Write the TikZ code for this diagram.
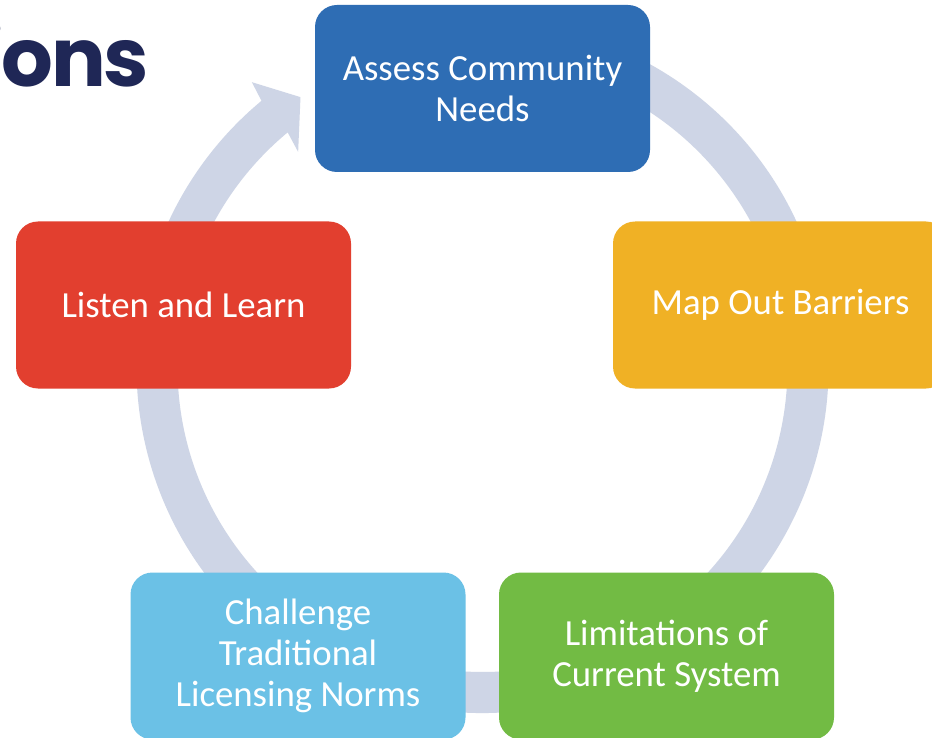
\documentclass[tikz,border=0pt]{standalone}
\usepackage{fontspec}
\usetikzlibrary{calc}
\newfontfamily\boxfont{Carlito}
\newfontfamily\titlefont{Poppins}[LetterSpace=-3]
\definecolor{assessblue}{RGB}{46,109,180}
\definecolor{mapgold}{RGB}{240,177,37}
\definecolor{limitgreen}{RGB}{114,187,68}
\definecolor{challengecyan}{RGB}{107,193,230}
\definecolor{listenred}{RGB}{226,63,47}
\definecolor{ringgrey}{RGB}{206,213,230}
\definecolor{titlenavy}{RGB}{31,39,86}

\begin{document}
\begin{tikzpicture}[x=0.75pt,y=0.75pt,yscale=-1,xscale=1,
	stage/.style={rectangle, rounded corners=16.5pt, minimum width=251.25pt, minimum height=125.25pt, inner sep=0pt, text=white, align=center, font=\boxfont\fontsize{27.6}{30.8}\selectfont}]
	%set diagram area: 932 x 738
	\clip (0,0) rectangle (932,738);
	\fill [white] (0,0) rectangle (932,738);
	
	% Text Node
	\node [anchor=base east, inner sep=0pt, text=titlenavy, font=\titlefont\bfseries\fontsize{61}{61}\selectfont] (title) at (149,87) {ions};
	
	%Shape: Circular Arrow
	\coordinate (hub) at (482.5,367);
	\fill [ringgrey] ($(hub)+(-100:346)$) arc [start angle=-100, end angle=230.3, radius=346] -- ($(hub)+(-129:366.5)$) -- ($(hub)+(-124:325.5)$) -- ($(hub)+(-130.6:283.3)$) -- ($(hub)+(-129.7:305)$) arc [start angle=230.3, end angle=-100, radius=305] -- cycle ;
	
	%Shape: Rounded Rect
	\node [stage, fill=assessblue] (assess) at (482.5,88.5) {Assess Community\\Needs};
	%Shape: Rounded Rect
	\node [stage, fill=mapgold] (mapout) at (780.5,305) {Map Out Barriers};
	%Shape: Rounded Rect
	\node [stage, fill=limitgreen] (limits) at (666.5,656) {Limitations of\\Current System};
	%Shape: Rounded Rect
	\node [stage, fill=challengecyan] (challenge) at (298,656) {Challenge\\Traditional\\Licensing Norms};
	%Shape: Rounded Rect
	\node [stage, fill=listenred] (listen) at (183.5,305) {Listen and Learn};
	
\end{tikzpicture}
\end{document}
